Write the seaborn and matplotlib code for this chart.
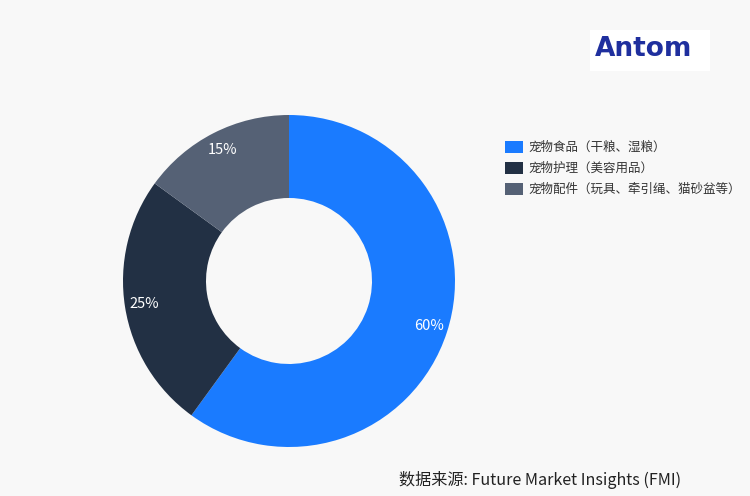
import matplotlib
matplotlib.use("Agg")
import matplotlib.pyplot as plt
import seaborn as sns
import numpy as np
from matplotlib.patches import Rectangle, Patch

categories = ["宠物食品（干粮、湿粮）", "宠物护理（美容用品）", "宠物配件（玩具、牵引绳、猫砂盆等）"]
values = [60, 25, 15]
labels = ["60%", "25%", "15%"]
colors = ["#1a7bff", "#223044", "#556175"]
source = "数据来源: Future Market Insights (FMI)"

sns.set_theme(style="white")
plt.rcParams['font.family'] = ['Noto Sans CJK SC', 'DejaVu Sans']

bg = "#f8f8f8"
fig = plt.figure(figsize=(7.5, 4.96), dpi=100, facecolor=bg)
ax = fig.add_axes([123/750, 1 - 447/496, 332/750, 332/496])
ax.set_facecolor(bg)
wedges, texts = ax.pie(values, colors=sns.color_palette(colors), startangle=90, counterclock=False,
                       radius=1, wedgeprops=dict(width=0.5, edgecolor='none'), frame=False)
for w, lab in zip(wedges, labels):
    ang = np.deg2rad((w.theta1 + w.theta2) / 2)
    ax.text(0.885 * np.cos(ang), 0.885 * np.sin(ang), lab, ha='center', va='center',
            color='white', fontsize=10.5, fontweight='medium')
ax.set_xlim(-1, 1)
ax.set_ylim(-1, 1)
ax.axis('off')

handles = [Patch(facecolor=c, edgecolor='none') for c in colors]
leg = fig.legend(handles, categories, loc='upper left', bbox_to_anchor=(500/750, 1 - 136/496),
                 frameon=False, fontsize=9, handlelength=1.4, handleheight=1.1,
                 handletextpad=0.5, labelspacing=0.62, borderaxespad=0)
for t in leg.get_texts():
    t.set_color('#333333')

# logo box
fig.patches.append(Rectangle((590/750, 1 - 71/496), 120/750, 41/496, transform=fig.transFigure,
                             facecolor='white', edgecolor='none', zorder=1))
fig.text(644/750, 1 - 49/496, "Antom", ha='center', va='center', fontsize=19, fontweight='bold',
         color='#1f2f9e', family='DejaVu Sans', zorder=2)

fig.text(540/750, 1 - 480/496, source, ha='center', va='center', fontsize=11.6, color='#222222')

fig.savefig("out.png", dpi=100, facecolor=bg)
